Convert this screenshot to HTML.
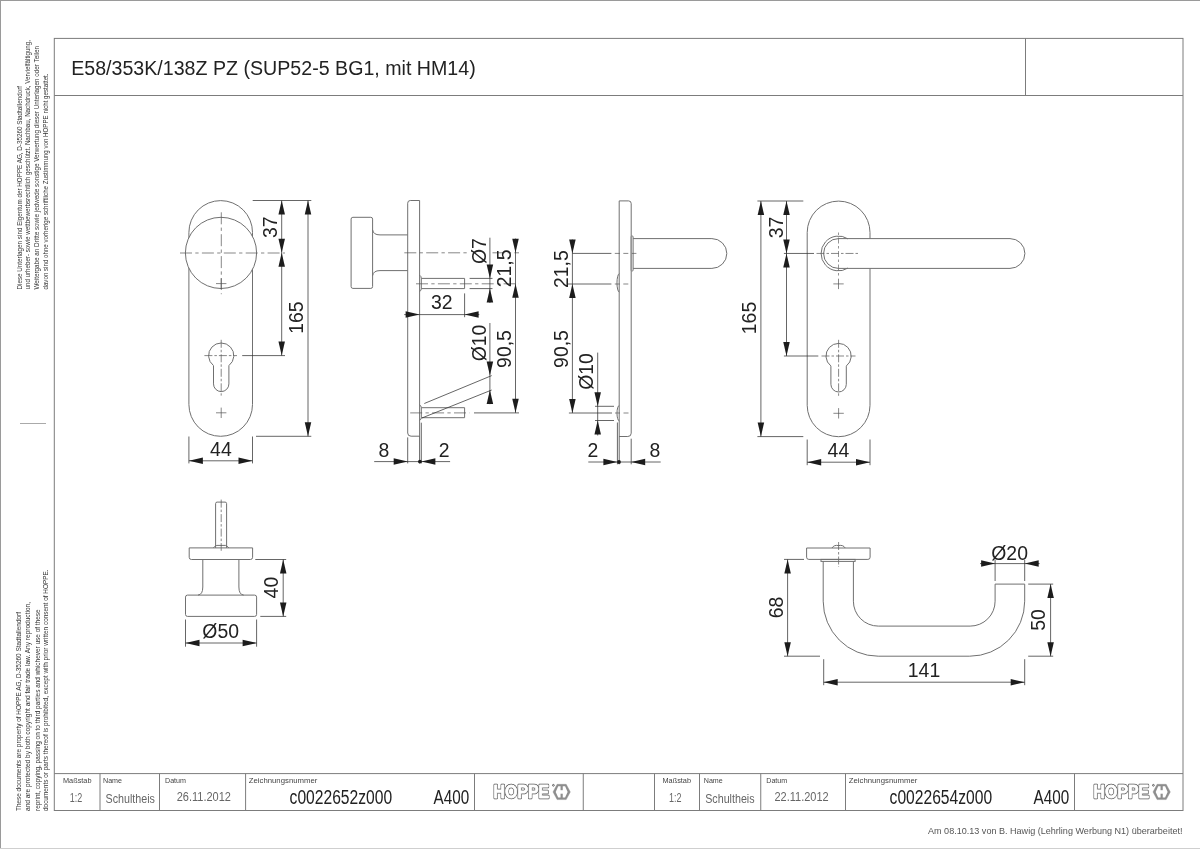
<!DOCTYPE html>
<html lang="de"><head><meta charset="utf-8"><title>E58/353K/138Z PZ</title>
<style>
html,body{margin:0;padding:0;background:#fff}
svg{display:block;will-change:transform}
text{font-family:"Liberation Sans",Arial,Helvetica,sans-serif}
.l{fill:none;stroke:#707070;stroke-width:1}
.lw{fill:#fff;stroke:#707070;stroke-width:1}
.lk{fill:#fff;stroke:#333;stroke-width:1.1}
.d{fill:none;stroke:#333;stroke-width:.75}
.x{fill:none;stroke:#555;stroke-width:.7}
.c{fill:none;stroke:#555;stroke-width:.7;stroke-dasharray:12 3.3 3.3 3.3}
.c2{fill:none;stroke:#555;stroke-width:.7;stroke-dasharray:8 2 2.5 2}
.c3{fill:none;stroke:#555;stroke-width:.7;stroke-dasharray:5 3.5}
.c4{fill:none;stroke:#666;stroke-width:.7;stroke-dasharray:2.5 2.5 6 2.5}
.a{fill:#1c1c1c;stroke:none}
.f{fill:none;stroke:#7c7c7c;stroke-width:1}
.b1{stroke:#9a9a9a;stroke-width:1}
.b2{stroke:#cfcfcf;stroke-width:1}
.tick{stroke:#aaa;stroke-width:1}
.t{fill:#222}
.tt{fill:#222}
.sm{fill:#333}
.lab{fill:#444}
.val{fill:#666}
.big{fill:#222}
.foot{fill:#555}
.lg1{fill:#505050;stroke:#505050;stroke-width:2.4;stroke-linejoin:round}
.lg2{fill:#fff;stroke:#fff;stroke-width:.9;stroke-linejoin:round}
.hex{fill:#8e8e8e;stroke:#8e8e8e;stroke-width:.4}
.hexi{fill:#fff}
.hexn{fill:#8e8e8e}
.hh{fill:none;stroke:#fff;stroke-width:2}
.reg{fill:none;stroke:#444;stroke-width:.8}
</style></head>
<body>
<svg width="1200" height="849" viewBox="0 0 1200 849">
<rect x="0" y="0" width="1200" height="849" fill="#fff"/>
<g id="frame">
<line class="b1" x1="0" y1="0.5" x2="1200" y2="0.5" />
<line class="b1" x1="0.5" y1="0" x2="0.5" y2="849" />
<line class="b2" x1="0" y1="848.5" x2="1200" y2="848.5" />
<rect class="f" x="54.3" y="38.4" width="1128.7" height="772.1"/>
<line class="f" x1="54.3" y1="95.5" x2="1183.0" y2="95.5" />
<line class="f" x1="1025.5" y1="38.4" x2="1025.5" y2="95.5" />
<line class="f" x1="54.3" y1="773.6" x2="1183.0" y2="773.6" />
<line class="f" x1="100" y1="773.6" x2="100" y2="810.5" />
<line class="f" x1="159.5" y1="773.6" x2="159.5" y2="810.5" />
<line class="f" x1="245.6" y1="773.6" x2="245.6" y2="810.5" />
<line class="f" x1="474.5" y1="773.6" x2="474.5" y2="810.5" />
<line class="f" x1="583.25" y1="773.6" x2="583.25" y2="810.5" />
<line class="f" x1="654.5" y1="773.6" x2="654.5" y2="810.5" />
<line class="f" x1="699.5" y1="773.6" x2="699.5" y2="810.5" />
<line class="f" x1="760.75" y1="773.6" x2="760.75" y2="810.5" />
<line class="f" x1="845.5" y1="773.6" x2="845.5" y2="810.5" />
<line class="f" x1="1074.5" y1="773.6" x2="1074.5" y2="810.5" />
<line class="tick" x1="20" y1="423.5" x2="46" y2="423.5" />
</g>
<text class="tt" x="71.2" y="75.1" font-size="20" text-anchor="start" textLength="404.5" lengthAdjust="spacingAndGlyphs">E58/353K/138Z PZ (SUP52-5 BG1, mit HM14)</text>
<text class="sm" transform="translate(21.5 289.5) rotate(-90)" font-size="6.9" text-anchor="start" textLength="203.5" lengthAdjust="spacingAndGlyphs">Diese Unterlagen sind Eigentum der  HOPPE AG, D-35260 Stadtallendorf</text>
<text class="sm" transform="translate(30.4 289.5) rotate(-90)" font-size="6.9" text-anchor="start" textLength="249.5" lengthAdjust="spacingAndGlyphs">und urheber- sowie wettbewerbsrechtlich geschützt. Nachbau, Nachdruck, Vervielfältigung,</text>
<text class="sm" transform="translate(39.4 289.5) rotate(-90)" font-size="6.9" text-anchor="start" textLength="243.5" lengthAdjust="spacingAndGlyphs">Weitergabe an Dritte sowie jedwede sonstige Verwertung dieser Unterlagen oder Teilen</text>
<text class="sm" transform="translate(48.0 289.5) rotate(-90)" font-size="6.9" text-anchor="start" textLength="216" lengthAdjust="spacingAndGlyphs">davon sind ohne vorherige schriftliche Zustimmung von HOPPE nicht gestattet.</text>
<text class="sm" transform="translate(21.4 811) rotate(-90)" font-size="6.9" text-anchor="start" textLength="199" lengthAdjust="spacingAndGlyphs">These documents are property of HOPPE AG, D-35260 Stadtallendorf</text>
<text class="sm" transform="translate(30.3 811) rotate(-90)" font-size="6.9" text-anchor="start" textLength="209" lengthAdjust="spacingAndGlyphs">and are protected by both copyright and fair trade law. Any reproduction,</text>
<text class="sm" transform="translate(39.5 811) rotate(-90)" font-size="6.9" text-anchor="start" textLength="201.6" lengthAdjust="spacingAndGlyphs">reprint, copying, passing on to third parties and whichever use of these</text>
<text class="sm" transform="translate(48.1 811) rotate(-90)" font-size="6.9" text-anchor="start" textLength="241.6" lengthAdjust="spacingAndGlyphs">documents or parts thereof is prohibited, except with prior written consent of HOPPE.</text>
<text class="lab" x="63" y="783" font-size="7.8" text-anchor="start" textLength="28.5" lengthAdjust="spacingAndGlyphs">Maßstab</text>
<text class="lab" x="103" y="783" font-size="7.8" text-anchor="start" textLength="19" lengthAdjust="spacingAndGlyphs">Name</text>
<text class="lab" x="165" y="783" font-size="7.8" text-anchor="start" textLength="21" lengthAdjust="spacingAndGlyphs">Datum</text>
<text class="lab" x="248.75" y="783" font-size="7.8" text-anchor="start" textLength="68.6" lengthAdjust="spacingAndGlyphs">Zeichnungsnummer</text>
<text class="val" x="69.7" y="801.8" font-size="12.2" text-anchor="start" textLength="12.5" lengthAdjust="spacingAndGlyphs">1:2</text>
<text class="val" x="105.5" y="802.5" font-size="13" text-anchor="start" textLength="49.4" lengthAdjust="spacingAndGlyphs">Schultheis</text>
<text class="val" x="176.75" y="801.4" font-size="12.3" text-anchor="start" textLength="54.2" lengthAdjust="spacingAndGlyphs">26.11.2012</text>
<text class="big" x="289.6" y="803.8" font-size="20" text-anchor="start" textLength="102.5" lengthAdjust="spacingAndGlyphs">c0022652z000</text>
<text class="big" x="433.6" y="803.8" font-size="20" text-anchor="start" textLength="35.6" lengthAdjust="spacingAndGlyphs">A400</text>
<text class="lab" x="662.5" y="783" font-size="7.8" text-anchor="start" textLength="28.5" lengthAdjust="spacingAndGlyphs">Maßstab</text>
<text class="lab" x="703.75" y="783" font-size="7.8" text-anchor="start" textLength="19" lengthAdjust="spacingAndGlyphs">Name</text>
<text class="lab" x="766.25" y="783" font-size="7.8" text-anchor="start" textLength="21" lengthAdjust="spacingAndGlyphs">Datum</text>
<text class="lab" x="848.75" y="783" font-size="7.8" text-anchor="start" textLength="68.6" lengthAdjust="spacingAndGlyphs">Zeichnungsnummer</text>
<text class="val" x="669" y="801.8" font-size="12.2" text-anchor="start" textLength="12.5" lengthAdjust="spacingAndGlyphs">1:2</text>
<text class="val" x="705.2" y="802.5" font-size="13" text-anchor="start" textLength="49.4" lengthAdjust="spacingAndGlyphs">Schultheis</text>
<text class="val" x="774.5" y="801.4" font-size="12.3" text-anchor="start" textLength="54.2" lengthAdjust="spacingAndGlyphs">22.11.2012</text>
<text class="big" x="889.6" y="803.8" font-size="20" text-anchor="start" textLength="102.5" lengthAdjust="spacingAndGlyphs">c0022654z000</text>
<text class="big" x="1033.6" y="803.8" font-size="20" text-anchor="start" textLength="35.6" lengthAdjust="spacingAndGlyphs">A400</text>
<g class="logo">
<text x="493.59999999999997" y="798.35" font-size="19" font-weight="bold" textLength="55.6" lengthAdjust="spacingAndGlyphs" class="lg1">HOPPE</text>
<text x="493.59999999999997" y="798.35" font-size="19" font-weight="bold" textLength="55.6" lengthAdjust="spacingAndGlyphs" class="lg2">HOPPE</text>
<polygon class="hex" points="553.0,791.95 557.1,784.3 566.1999999999999,784.3 570.3,791.95 566.1999999999999,799.6 557.1,799.6"/>
<polygon class="hexi" points="555.6999999999999,791.95 558.2,786.3 565.0999999999999,786.3 567.6,791.95 565.0999999999999,797.6 558.2,797.6"/>
<rect class="hexn" x="560.55" y="785.3" width="2.2" height="4.90"/>
<rect class="hexn" x="560.55" y="793.7" width="2.2" height="4.90"/>
<circle class="reg" cx="553.4" cy="785.3" r="0.9"/>
</g>
<g class="logo">
<text x="1093.6000000000001" y="798.35" font-size="19" font-weight="bold" textLength="55.6" lengthAdjust="spacingAndGlyphs" class="lg1">HOPPE</text>
<text x="1093.6000000000001" y="798.35" font-size="19" font-weight="bold" textLength="55.6" lengthAdjust="spacingAndGlyphs" class="lg2">HOPPE</text>
<polygon class="hex" points="1153.0,791.95 1157.1,784.3 1166.2,784.3 1170.3,791.95 1166.2,799.6 1157.1,799.6"/>
<polygon class="hexi" points="1155.7,791.95 1158.1999999999998,786.3 1165.1000000000001,786.3 1167.6,791.95 1165.1000000000001,797.6 1158.1999999999998,797.6"/>
<rect class="hexn" x="1160.55" y="785.3" width="2.2" height="4.90"/>
<rect class="hexn" x="1160.55" y="793.7" width="2.2" height="4.90"/>
<circle class="reg" cx="1153.4" cy="785.3" r="0.9"/>
</g>
<text class="foot" x="1182.5" y="834.3" font-size="9.6" text-anchor="end" textLength="254.5" lengthAdjust="spacingAndGlyphs">Am 08.10.13 von B. Hawig (Lehrling Werbung N1) überarbeitet!</text>
<g id="v1">
<path class="l" d="M188.9,232.39999999999998A31.799999999999997,31.799999999999997 0 0 1 252.5,232.39999999999998V404.5A31.799999999999997,31.799999999999997 0 0 1 188.9,404.5Z" />
<circle class="lw" cx="221" cy="252.9" r="35.6"/>
<path class="l" d="M213.50,365.80L213.44,365.53A12.6,12.6 0 1 1 228.96,365.53L228.90,365.80V383.90A7.7,7.7 0 0 1 213.50,383.90Z" />
<line class="c" x1="180" y1="253" x2="285" y2="253" />
<line class="c" x1="221.3" y1="212.3" x2="221.3" y2="294.2" />
<line class="x" x1="216.0" y1="283.6" x2="226.39999999999998" y2="283.6" />
<line class="x" x1="221.2" y1="278.40000000000003" x2="221.2" y2="288.8" />
<line class="c2" x1="204.4" y1="355.6" x2="237" y2="355.6" />
<line class="d" x1="242.2" y1="355.6" x2="285" y2="355.6" />
<line class="c2" x1="221.2" y1="339.8" x2="221.2" y2="395.6" />
<line class="x" x1="216.0" y1="412.8" x2="226.39999999999998" y2="412.8" />
<line class="x" x1="221.2" y1="407.6" x2="221.2" y2="418.0" />
<line class="d" x1="252.7" y1="200.5" x2="311.3" y2="200.5" />
<line class="d" x1="256" y1="436.3" x2="311.3" y2="436.3" />
<line class="d" x1="281.7" y1="200.5" x2="281.7" y2="355.6" />
<polygon class="a" points="281.70,200.50 278.45,214.50 284.95,214.50"/>
<polygon class="a" points="281.70,252.70 278.45,238.70 284.95,238.70"/>
<polygon class="a" points="281.70,252.70 278.45,266.70 284.95,266.70"/>
<polygon class="a" points="281.70,355.60 278.45,341.60 284.95,341.60"/>
<line class="d" x1="308" y1="200.5" x2="308" y2="436.3" />
<polygon class="a" points="308.00,200.50 304.75,214.50 311.25,214.50"/>
<polygon class="a" points="308.00,436.30 304.75,422.30 311.25,422.30"/>
<text class="t" transform="translate(277.3 227.2) rotate(-90)" font-size="19.4" text-anchor="middle" >37</text>
<text class="t" transform="translate(303.4 317.6) rotate(-90)" font-size="19.4" text-anchor="middle" >165</text>
<line class="d" x1="188.9" y1="436.5" x2="188.9" y2="463.4" />
<line class="d" x1="252.5" y1="436.5" x2="252.5" y2="463.4" />
<line class="d" x1="188.9" y1="460.8" x2="252.5" y2="460.8" />
<polygon class="a" points="188.90,460.80 202.90,457.55 202.90,464.05"/>
<polygon class="a" points="252.50,460.80 238.50,457.55 238.50,464.05"/>
<text class="t" x="220.9" y="455.7" font-size="19.4" text-anchor="middle" >44</text>
</g>
<g id="v2">
<path class="l" d="M419.6,200.5H410.3Q407.7,200.5 407.7,203.2V433Q407.7,436.2 411.09999999999997,436.2H419.6Z" />
<rect class="l" x="351.1" y="217.3" width="21.5" height="71.1" rx="1.8"/>
<path class="l" d="M372.6,229.8Q373.2,234.9 380,234.9H407.7" />
<path class="l" d="M372.6,275.7Q373.2,270.6 380,270.6H407.7" />
<line class="c" x1="404.3" y1="252.8" x2="467" y2="252.8" />
<line class="c" x1="492.5" y1="252.8" x2="519" y2="252.8" />
<path class="l" d="M421.3,278.4H464.6V288.6H421.3" />
<path class="l" d="M419.6,275.2Q421.3,276.2 421.3,278.4V288.6Q421.3,290.6 419.6,291.6" />
<line class="c" x1="416" y1="283.8" x2="519" y2="283.8" />
<line class="d" x1="469.6" y1="278.4" x2="492.5" y2="278.4" />
<line class="d" x1="469.6" y1="288.6" x2="492.5" y2="288.6" />
<line class="d" x1="489.9" y1="237.7" x2="489.9" y2="303" />
<polygon class="a" points="489.90,278.40 486.65,264.40 493.15,264.40"/>
<polygon class="a" points="489.90,288.60 486.65,302.60 493.15,302.60"/>
<text class="t" transform="translate(485.9 251.1) rotate(-90)" font-size="19.4" text-anchor="middle" >Ø7</text>
<line class="d" x1="515.5" y1="238.6" x2="515.5" y2="412.8" />
<polygon class="a" points="515.50,252.80 512.25,238.80 518.75,238.80"/>
<polygon class="a" points="515.50,283.80 512.25,297.80 518.75,297.80"/>
<polygon class="a" points="515.50,412.80 512.25,398.80 518.75,398.80"/>
<text class="t" transform="translate(510.9 268.4) rotate(-90)" font-size="19.4" text-anchor="middle" >21,5</text>
<text class="t" transform="translate(510.9 349) rotate(-90)" font-size="19.4" text-anchor="middle" >90,5</text>
<line class="d" x1="404.2" y1="314.6" x2="479.3" y2="314.6" />
<polygon class="a" points="419.60,314.60 405.60,311.35 405.60,317.85"/>
<polygon class="a" points="464.60,314.60 478.60,311.35 478.60,317.85"/>
<line class="d" x1="464.6" y1="293.4" x2="464.6" y2="317.2" />
<text class="t" x="441.8" y="309.3" font-size="19.4" text-anchor="middle" >32</text>
<path class="l" d="M421.3,407.7H464.6V417.7H421.3" />
<path class="l" d="M419.6,404.8Q421.3,405.8 421.3,407.7V417.7Q421.3,419.4 419.6,420.4" />
<line class="c" x1="410.2" y1="412.9" x2="469.6" y2="412.9" />
<line class="d" x1="474" y1="412.9" x2="519" y2="412.9" />
<line class="d" x1="424.3" y1="403.5" x2="491.7" y2="375.6" />
<line class="d" x1="421.9" y1="418" x2="491.7" y2="390" />
<line class="d" x1="489.9" y1="323" x2="489.9" y2="404.2" />
<polygon class="a" points="489.90,375.60 486.65,361.60 493.15,361.60"/>
<polygon class="a" points="489.90,390.00 486.65,404.00 493.15,404.00"/>
<text class="t" transform="translate(485.8 343) rotate(-90)" font-size="19.4" text-anchor="middle" >Ø10</text>
<line class="d" x1="407.7" y1="437.4" x2="407.7" y2="463.4" />
<line class="d" x1="419.6" y1="436.2" x2="419.6" y2="463.4" />
<line class="d" x1="421.3" y1="422.7" x2="421.3" y2="463.4" />
<line class="d" x1="374.2" y1="461.6" x2="450.1" y2="461.6" />
<polygon class="a" points="407.70,461.60 393.70,458.35 393.70,464.85"/>
<polygon class="a" points="421.40,461.60 435.40,458.35 435.40,464.85"/>
<circle class="a" cx="419.9" cy="461.6" r="1.9"/>
<text class="t" x="383.9" y="456.7" font-size="19.4" text-anchor="middle" >8</text>
<text class="t" x="444.1" y="456.7" font-size="19.4" text-anchor="middle" >2</text>
</g>
<g id="v3">
<path class="l" d="M619.2,200.9H628.6Q631.2,200.9 631.2,203.6V433.2Q631.2,436.5 627.8000000000001,436.5H619.2Z" />
<rect class="lw" x="631.2" y="236.1" width="1.9" height="34.8" rx="0.6"/>
<path class="l" d="M633.1,238.6H711.9A14.9,14.9 0 0 1 711.9,268.4H633.1" />
<path class="l" d="M619.2,273.6A2.6,9.4 0 0 0 619.2,292.2" />
<path class="l" d="M619.2,405.6A2.2,7.6 0 0 0 619.2,420.8" />
<line class="d" x1="572.4" y1="253.4" x2="611.4" y2="253.4" />
<line class="c3" x1="614.8" y1="253.4" x2="636.4" y2="253.4" />
<line class="d" x1="568" y1="284" x2="611.4" y2="284" />
<line class="c3" x1="614.8" y1="284" x2="631.6" y2="284" />
<line class="d" x1="568.9" y1="413" x2="612" y2="413" />
<line class="c3" x1="615" y1="413" x2="631.6" y2="413" />
<line class="d" x1="572.4" y1="239.5" x2="572.4" y2="413" />
<polygon class="a" points="572.40,253.40 569.15,239.40 575.65,239.40"/>
<polygon class="a" points="572.40,284.00 569.15,298.00 575.65,298.00"/>
<polygon class="a" points="572.40,413.00 569.15,399.00 575.65,399.00"/>
<text class="t" transform="translate(567.8 269.2) rotate(-90)" font-size="19.4" text-anchor="middle" >21,5</text>
<text class="t" transform="translate(567.8 349) rotate(-90)" font-size="19.4" text-anchor="middle" >90,5</text>
<line class="d" x1="595" y1="406.3" x2="614" y2="406.3" />
<line class="d" x1="595" y1="420.5" x2="614" y2="420.5" />
<line class="d" x1="597.7" y1="352.6" x2="597.7" y2="435.5" />
<polygon class="a" points="597.70,406.30 594.45,392.30 600.95,392.30"/>
<polygon class="a" points="597.70,420.50 594.45,434.50 600.95,434.50"/>
<text class="t" transform="translate(593.4 371.5) rotate(-90)" font-size="19.4" text-anchor="middle" >Ø10</text>
<line class="d" x1="617.4" y1="422.5" x2="617.4" y2="464.3" />
<line class="d" x1="619.2" y1="436.5" x2="619.2" y2="464.3" />
<line class="d" x1="631.2" y1="438.7" x2="631.2" y2="464.3" />
<line class="d" x1="588.3" y1="462" x2="660.7" y2="462" />
<polygon class="a" points="617.40,462.00 603.40,458.75 603.40,465.25"/>
<polygon class="a" points="631.20,462.00 645.20,458.75 645.20,465.25"/>
<circle class="a" cx="619" cy="462" r="1.9"/>
<text class="t" x="592.9" y="456.9" font-size="19.4" text-anchor="middle" >2</text>
<text class="t" x="654.8" y="456.9" font-size="19.4" text-anchor="middle" >8</text>
</g>
<g id="v4">
<path class="l" d="M807.2,232.49999999999997A31.399999999999977,31.399999999999977 0 0 1 870.0,232.49999999999997V405.3A31.399999999999977,31.399999999999977 0 0 1 807.2,405.3Z" />
<path class="lw" d="M838.5,238.6H1010A14.9,14.9 0 0 1 1010,268.4H838.5A14.9,14.9 0 0 1 838.5,238.6Z" />
<path class="l" d="M847.98,238.86A17.4,17.4 0 1 0 847.98,268.04" />
<path class="l" d="M830.90,366.20L830.84,365.93A12.6,12.6 0 1 1 846.36,365.93L846.30,366.20V384.30A7.7,7.7 0 0 1 830.90,384.30Z" />
<line class="d" x1="783.9" y1="253.45" x2="814" y2="253.45" />
<line class="c2" x1="816.5" y1="253.45" x2="860" y2="253.45" />
<line class="c4" x1="838.5" y1="232.5" x2="838.5" y2="276.6" />
<line class="x" x1="833.3" y1="283.9" x2="843.7" y2="283.9" />
<line class="x" x1="838.5" y1="278.7" x2="838.5" y2="289.09999999999997" />
<line class="d" x1="783.9" y1="356" x2="818.3" y2="356" />
<line class="c2" x1="821.5" y1="356" x2="855.5" y2="356" />
<line class="c2" x1="838.6" y1="339.8" x2="838.6" y2="396.3" />
<line class="x" x1="833.4" y1="413.3" x2="843.8000000000001" y2="413.3" />
<line class="x" x1="838.6" y1="408.1" x2="838.6" y2="418.5" />
<line class="d" x1="757.4" y1="201" x2="803.3" y2="201" />
<line class="d" x1="757.4" y1="436.6" x2="803.3" y2="436.6" />
<line class="d" x1="786.5" y1="201" x2="786.5" y2="356" />
<polygon class="a" points="786.50,201.00 783.25,215.00 789.75,215.00"/>
<polygon class="a" points="786.50,253.45 783.25,239.45 789.75,239.45"/>
<polygon class="a" points="786.50,253.45 783.25,267.45 789.75,267.45"/>
<polygon class="a" points="786.50,356.00 783.25,342.00 789.75,342.00"/>
<line class="d" x1="760.9" y1="201" x2="760.9" y2="436.6" />
<polygon class="a" points="760.90,201.00 757.65,215.00 764.15,215.00"/>
<polygon class="a" points="760.90,436.60 757.65,422.60 764.15,422.60"/>
<text class="t" transform="translate(782.8 227.5) rotate(-90)" font-size="19.4" text-anchor="middle" >37</text>
<text class="t" transform="translate(756.3 318) rotate(-90)" font-size="19.4" text-anchor="middle" >165</text>
<line class="d" x1="807.2" y1="439.5" x2="807.2" y2="465.2" />
<line class="d" x1="870.0" y1="439.5" x2="870.0" y2="465.2" />
<line class="d" x1="807.2" y1="462.2" x2="870.0" y2="462.2" />
<polygon class="a" points="807.20,462.20 821.20,458.95 821.20,465.45"/>
<polygon class="a" points="870.00,462.20 856.00,458.95 856.00,465.45"/>
<text class="t" x="838.4" y="457.2" font-size="19.4" text-anchor="middle" >44</text>
</g>
<g id="v5">
<path class="l" d="M215.6,547.9V503.6Q215.6,502.1 217.1,502.1H225.1Q226.6,502.1 226.6,503.6V547.9" />
<path class="l" d="M213.4,547.9Q215.2,545.6 216.8,545.4H225.4Q227,545.6 228.8,547.9" />
<line class="c2" x1="221.2" y1="499.6" x2="221.2" y2="550.8" />
<path class="l" d="M189.2,547.9H252.6V557.3Q252.6,559.5 250.4,559.5H191.4Q189.2,559.5 189.2,557.3Z" />
<path class="l" d="M202.8,559.5V587Q202.8,594.6 198,595.1" />
<path class="l" d="M238.9,559.5V587Q238.9,594.6 243.7,595.1" />
<rect class="l" x="185.5" y="595.1" width="71.1" height="21.3" rx="2"/>
<line class="d" x1="255.3" y1="559.5" x2="286.2" y2="559.5" />
<line class="d" x1="260.3" y1="616.4" x2="286.2" y2="616.4" />
<line class="d" x1="283.2" y1="559.5" x2="283.2" y2="616.4" />
<polygon class="a" points="283.20,559.50 279.95,573.50 286.45,573.50"/>
<polygon class="a" points="283.20,616.40 279.95,602.40 286.45,602.40"/>
<text class="t" transform="translate(278.2 587.6) rotate(-90)" font-size="19.4" text-anchor="middle" >40</text>
<line class="d" x1="185.5" y1="619.5" x2="185.5" y2="646.7" />
<line class="d" x1="256.6" y1="619.5" x2="256.6" y2="646.7" />
<line class="d" x1="185.5" y1="643" x2="256.6" y2="643" />
<polygon class="a" points="185.50,643.00 199.50,639.75 199.50,646.25"/>
<polygon class="a" points="256.60,643.00 242.60,639.75 242.60,646.25"/>
<text class="t" x="220.7" y="638" font-size="19.4" text-anchor="middle" >Ø50</text>
</g>
<g id="v6">
<path class="l" d="M806.6,548H870.1V557.2Q870.1,559.4 867.9,559.4H808.8Q806.6,559.4 806.6,557.2Z" />
<path class="l" d="M832,548Q834,544.6 838.6,545.6Q843.2,544.6 845.2,548" />
<line class="c2" x1="838.6" y1="542" x2="838.6" y2="567" />
<rect class="l" x="821" y="559.4" width="34.1" height="2" />
<path class="l" d="M823.2,561.4V601.2A55.0,55.0 0 0 0 878.2,656.2H969.7A55.0,55.0 0 0 0 1024.7,601.2V584.1H995.1V601.2A24.9,24.9 0 0 1 970.2,626.1H878.3A24.9,24.9 0 0 1 853.4,601.2V561.4" />
<line class="d" x1="784" y1="559.4" x2="804" y2="559.4" />
<line class="d" x1="784" y1="656.2" x2="820" y2="656.2" />
<line class="d" x1="787.6" y1="559.4" x2="787.6" y2="656.2" />
<polygon class="a" points="787.60,559.40 784.35,573.40 790.85,573.40"/>
<polygon class="a" points="787.60,656.20 784.35,642.20 790.85,642.20"/>
<text class="t" transform="translate(783 607.5) rotate(-90)" font-size="19.4" text-anchor="middle" >68</text>
<line class="d" x1="823.7" y1="659.2" x2="823.7" y2="685.2" />
<line class="d" x1="1024.7" y1="659.2" x2="1024.7" y2="685.2" />
<line class="d" x1="823.7" y1="682.2" x2="1024.7" y2="682.2" />
<polygon class="a" points="823.70,682.20 837.70,678.95 837.70,685.45"/>
<polygon class="a" points="1024.70,682.20 1010.70,678.95 1010.70,685.45"/>
<text class="t" x="924" y="677.2" font-size="19.4" text-anchor="middle" >141</text>
<line class="d" x1="995.1" y1="560" x2="995.1" y2="581" />
<line class="d" x1="1024.7" y1="560" x2="1024.7" y2="581" />
<line class="d" x1="980" y1="563.6" x2="1039.6" y2="563.6" />
<polygon class="a" points="995.10,563.60 981.10,560.35 981.10,566.85"/>
<polygon class="a" points="1024.70,563.60 1038.70,560.35 1038.70,566.85"/>
<text class="t" x="1009.6" y="559.7" font-size="19.4" text-anchor="middle" >Ø20</text>
<line class="d" x1="1028.2" y1="584.1" x2="1053.2" y2="584.1" />
<line class="d" x1="1028.2" y1="656.2" x2="1053.2" y2="656.2" />
<line class="d" x1="1050.6" y1="584.1" x2="1050.6" y2="656.2" />
<polygon class="a" points="1050.60,584.10 1047.35,598.10 1053.85,598.10"/>
<polygon class="a" points="1050.60,656.20 1047.35,642.20 1053.85,642.20"/>
<text class="t" transform="translate(1045.2 620) rotate(-90)" font-size="19.4" text-anchor="middle" >50</text>
</g>
</svg>
</body></html>
